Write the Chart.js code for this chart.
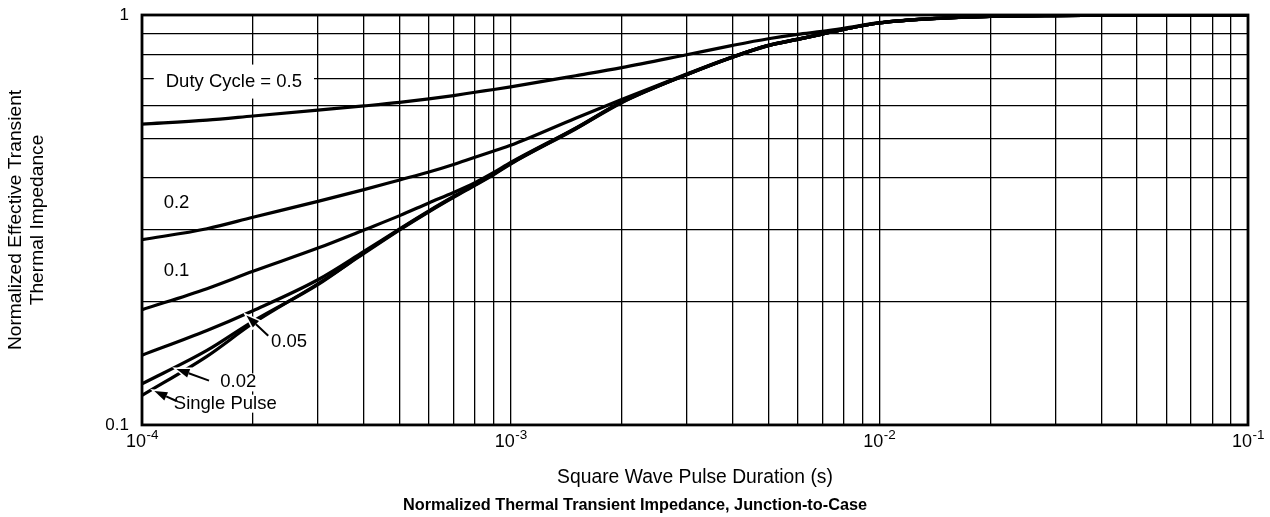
<!DOCTYPE html>
<html>
<head>
<meta charset="utf-8">
<script src="https://cdn.jsdelivr.net/npm/chart.js@4.4.0/dist/chart.umd.min.js"></script>
<style>
  html, body { margin: 0; padding: 0; background: #fff; }
  #chart { display: block; }
</style>
</head>
<body>
<canvas id="chart" width="1270" height="517"></canvas>
<script>
// pulse durations (s), shared by every curve
var pulseTime = [1e-4, 1.5e-4, 2e-4, 3e-4, 4e-4, 5e-4, 6e-4, 7e-4, 8e-4, 9e-4,
                 1e-3, 1.5e-3, 2e-3, 3e-3, 4e-3, 5e-3, 6e-3, 7e-3, 8e-3,
                 1e-2, 1.5e-2, 2e-2, 3e-2, 5e-2, 1e-1];

var duty05 = [0.542, 0.554, 0.567, 0.586, 0.600, 0.612, 0.624, 0.636, 0.648, 0.658,
              0.668, 0.711, 0.744, 0.800, 0.843, 0.875, 0.897, 0.912, 0.928,
              0.958, 0.984, 0.992, 0.997, 1.0, 1.0];
var duty02 = [0.283, 0.301, 0.321, 0.351, 0.375, 0.396, 0.414, 0.432, 0.450, 0.466,
              0.481, 0.560, 0.622, 0.718, 0.791, 0.844, 0.873, 0.899, 0.923,
              0.957, 0.983, 0.992, 0.997, 1.0, 1.0];
var duty01 = [0.191, 0.215, 0.237, 0.270, 0.299, 0.324, 0.348, 0.369, 0.390, 0.413,
              0.437, 0.530, 0.614, 0.716, 0.790, 0.843, 0.872, 0.898, 0.922,
              0.956, 0.983, 0.992, 0.997, 1.0, 1.0];
var duty005 = [0.148, 0.170, 0.190, 0.226, 0.265, 0.301, 0.333, 0.361, 0.386, 0.410,
               0.435, 0.529, 0.613, 0.716, 0.790, 0.843, 0.872, 0.898, 0.922,
               0.956, 0.983, 0.992, 0.997, 1.0, 1.0];
var duty002 = [0.126, 0.152, 0.179, 0.220, 0.263, 0.300, 0.332, 0.360, 0.385, 0.409,
               0.434, 0.528, 0.612, 0.715, 0.789, 0.842, 0.872, 0.898, 0.922,
               0.956, 0.983, 0.992, 0.997, 1.0, 1.0];
var singlePulse = [0.118, 0.147, 0.177, 0.221, 0.262, 0.299, 0.331, 0.359, 0.384, 0.408,
                   0.433, 0.527, 0.611, 0.715, 0.789, 0.842, 0.872, 0.898, 0.922,
                   0.956, 0.983, 0.992, 0.997, 1.0, 1.0];

var xDecades = [1e-4, 1e-3, 1e-2, 1e-1];
var xTickBase = ['10', '10', '10', '10'];
var xTickExp = ['-4', '-3', '-2', '-1'];
var yDecades = [0.1, 1];
var yTickLabels = ['0.1', '1'];

// curve labels, anchored in data units (left edge, vertical middle)
var noteText = ['Duty Cycle = 0.5', '0.2', '0.1', '0.05', '0.02', 'Single Pulse'];
var noteX = [1.16e-4, 1.145e-4, 1.145e-4, 2.24e-4, 1.63e-4, 1.22e-4];
var noteY = [0.688, 0.3475, 0.2373, 0.159, 0.127, 0.1127];

// leader arrows: tail -> tip
var arrowFromX = [2.2e-4, 1.52e-4, 1.24e-4];
var arrowFromY = [0.165, 0.1283, 0.1144];
var arrowToX = [1.92e-4, 1.24e-4, 1.08e-4];
var arrowToY = [0.185, 0.137, 0.121];

var FONT = "'Liberation Sans', Arial, Helvetica, sans-serif";
var labelFont = '18.5px ' + FONT;

function points(vals) {
    return pulseTime.map(function (t, i) { return {x: t, y: vals[i]}; });
}

function curve(vals) {
    return {
        data: points(vals),
        borderColor: '#000',
        borderWidth: 3.2,
        pointRadius: 0,
        fill: false,
        cubicInterpolationMode: 'monotone'
    };
}

function isDecadeStep(v) {
    var m = v / Math.pow(10, Math.floor(Math.log10(v) + 1e-9));
    return Math.abs(m - Math.round(m)) < 1e-6;
}

function decadeIndex(decades, v) {
    for (var i = 0; i < decades.length; i++) {
        if (Math.abs(decades[i] - v) / decades[i] < 1e-6) return i;
    }
    return -1;
}

function drawArrow(ctx, x0, y0, x1, y1) {
    var ang = Math.atan2(y1 - y0, x1 - x0);
    var L = 13, W = 4.5;
    var bx = x1 - L * Math.cos(ang), by = y1 - L * Math.sin(ang);
    var nx = -Math.sin(ang) * W, ny = Math.cos(ang) * W;

    function head() {
        ctx.beginPath();
        ctx.moveTo(x1, y1);
        ctx.lineTo(bx + nx, by + ny);
        ctx.lineTo(bx - nx, by - ny);
        ctx.closePath();
    }

    ctx.strokeStyle = '#fff';
    ctx.lineWidth = 4.5;
    ctx.beginPath(); ctx.moveTo(x0, y0); ctx.lineTo(bx, by); ctx.stroke();
    head(); ctx.lineWidth = 3; ctx.stroke();

    ctx.strokeStyle = '#000';
    ctx.fillStyle = '#000';
    ctx.lineWidth = 2;
    ctx.beginPath(); ctx.moveTo(x0, y0); ctx.lineTo(bx, by); ctx.stroke();
    head(); ctx.fill();
}

var notesPlugin = {
    id: 'notes',
    beforeDatasetsDraw: function (chart) {
        var ctx = chart.ctx, a = chart.chartArea;
        var sx = chart.scales.x, sy = chart.scales.y;
        ctx.save();
        ctx.font = labelFont;
        ctx.fillStyle = '#fff';
        for (var i = 0; i < noteText.length; i++) {
            var x = sx.getPixelForValue(noteX[i]), y = sy.getPixelForValue(noteY[i]);
            var w = ctx.measureText(noteText[i]).width;
            var padX = i === 0 ? 12 : 4, padY = i === 0 ? 17 : 9;
            ctx.fillRect(x - padX, y - padY, w + 2 * padX, 2 * padY);
        }
        ctx.strokeStyle = '#000';
        ctx.lineWidth = 2.8;
        ctx.strokeRect(a.left, a.top, a.right - a.left, a.bottom - a.top);
        ctx.restore();
    },
    afterDatasetsDraw: function (chart) {
        var ctx = chart.ctx;
        var sx = chart.scales.x, sy = chart.scales.y;
        ctx.save();
        for (var k = 0; k < arrowFromX.length; k++) {
            drawArrow(ctx,
                sx.getPixelForValue(arrowFromX[k]), sy.getPixelForValue(arrowFromY[k]),
                sx.getPixelForValue(arrowToX[k]), sy.getPixelForValue(arrowToY[k]));
        }
        ctx.font = labelFont;
        ctx.fillStyle = '#000';
        ctx.textAlign = 'left';
        ctx.textBaseline = 'middle';
        for (var i = 0; i < noteText.length; i++) {
            ctx.fillText(noteText[i], sx.getPixelForValue(noteX[i]), sy.getPixelForValue(noteY[i]));
        }

        // decade labels under the x axis, with raised exponents
        var baseY = chart.chartArea.bottom + 22;
        ctx.textBaseline = 'alphabetic';
        for (var j = 0; j < xDecades.length; j++) {
            var cx = sx.getPixelForValue(xDecades[j]);
            ctx.font = '18px ' + FONT;
            var wb = ctx.measureText(xTickBase[j]).width;
            ctx.font = '13.5px ' + FONT;
            var we = ctx.measureText(xTickExp[j]).width;
            var left = cx - (wb + we) / 2;
            ctx.font = '18px ' + FONT;
            ctx.fillText(xTickBase[j], left, baseY);
            ctx.font = '13.5px ' + FONT;
            ctx.fillText(xTickExp[j], left + wb + 0.5, baseY - 8);
        }
        ctx.restore();
    }
};

var gridStyle = {
    color: '#000',
    lineWidth: 1.3,
    drawTicks: false
};

new Chart(document.getElementById('chart'), {
    type: 'line',
    data: {
        datasets: [curve(duty05), curve(duty02), curve(duty01),
                   curve(duty005), curve(duty002), curve(singlePulse)]
    },
    options: {
        responsive: false,
        animation: false,
        layout: { padding: 0 },
        scales: {
            x: {
                type: 'logarithmic',
                min: 1e-4,
                max: 1e-1,
                grid: gridStyle,
                border: { display: false },
                afterBuildTicks: function (scale) {
                    scale.ticks = scale.ticks.filter(function (t) { return isDecadeStep(t.value); });
                },
                afterFit: function (scale) {
                    scale.height = 64;
                    scale.paddingLeft = 0;
                    scale.paddingRight = 22;
                },
                ticks: {
                    autoSkip: false,
                    maxRotation: 0,
                    callback: function () { return ''; }
                },
                title: {
                    display: true,
                    text: 'Square Wave Pulse Duration (s)',
                    color: '#000',
                    font: { family: FONT, size: 19.3 },
                    padding: { top: 0, bottom: 0 }
                }
            },
            y: {
                type: 'logarithmic',
                min: 0.1,
                max: 1,
                grid: gridStyle,
                border: { display: false },
                afterBuildTicks: function (scale) {
                    scale.ticks = scale.ticks.filter(function (t) { return isDecadeStep(t.value); });
                },
                afterFit: function (scale) {
                    scale.width = 142;
                    scale.paddingTop = 15;
                    scale.paddingBottom = 0;
                },
                ticks: {
                    autoSkip: false,
                    padding: 13,
                    color: '#000',
                    font: { family: FONT, size: 17 },
                    callback: function (v) {
                        var i = decadeIndex(yDecades, v);
                        return i < 0 ? '' : yTickLabels[i];
                    }
                },
                title: {
                    display: true,
                    text: ['Normalized Effective Transient', 'Thermal Impedance'],
                    color: '#000',
                    font: { family: FONT, size: 19.2, lineHeight: 1.17 },
                    padding: { top: 4, bottom: 0 }
                }
            }
        },
        plugins: {
            legend: { display: false },
            tooltip: { enabled: false },
            title: {
                display: true,
                position: 'bottom',
                text: 'Normalized Thermal Transient Impedance, Junction-to-Case',
                color: '#000',
                font: { family: FONT, size: 16.3, weight: 'bold' },
                padding: { top: 7, bottom: 1.5 }
            }
        }
    },
    plugins: [notesPlugin]
});
</script>
</body>
</html>
